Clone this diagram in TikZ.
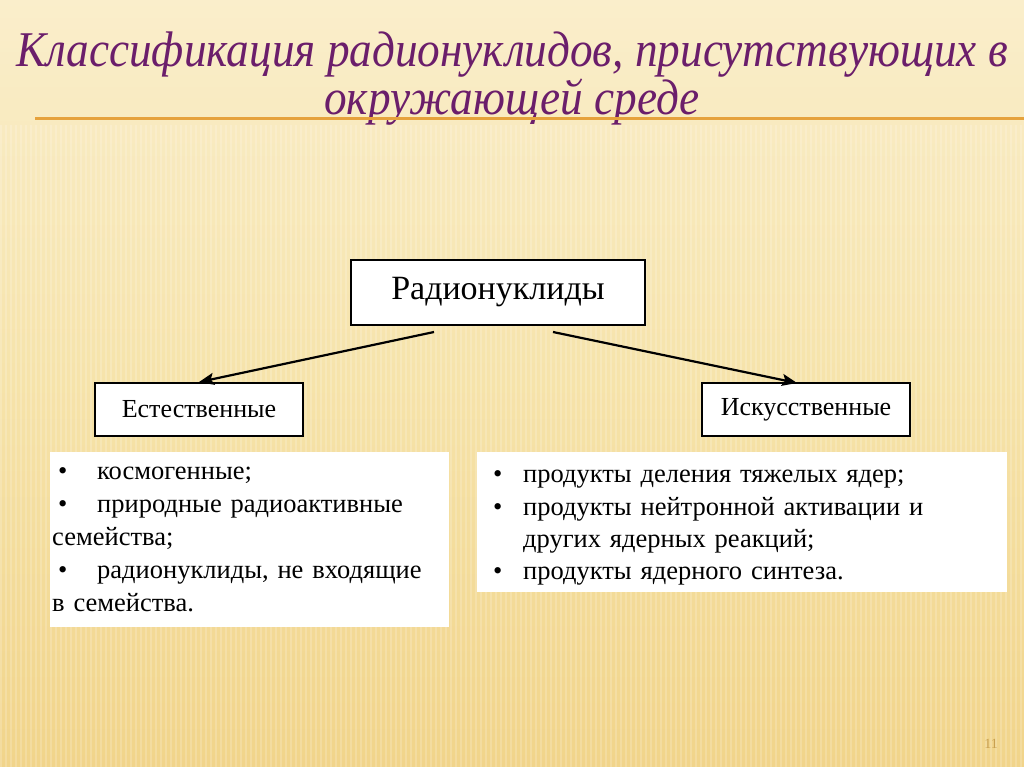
\documentclass[tikz,border=0pt]{standalone}
\usepackage{fontspec}
\setmainfont{Liberation Serif}
\usetikzlibrary{arrows.meta}
\definecolor{bgtop}{HTML}{FAEECB}
\definecolor{bgmid}{HTML}{F6E3AA}
\definecolor{bgbot}{HTML}{F1D48A}
\definecolor{titlecol}{HTML}{6B1E6B}
\definecolor{rulecol}{HTML}{E6A23C}
\definecolor{numcol}{HTML}{C8A050}
\tikzset{
  box/.style={draw=black, line width=1.9pt, fill=white, inner sep=0pt, text=black},
  listbg/.style={fill=white, inner sep=0pt},
  listbox/.style={fill=white, inner ysep=0pt, inner xsep=2pt, align=left, text=black,
    font=\fontsize{26.5}{33}\selectfont},
  listtext/.style={inner sep=0pt, align=left, text=black},
  arr/.style={line width=2.2pt, -{Stealth[length=15pt,width=12pt,inset=3pt]}},
  titletext/.style={text=titlecol, font=\fontsize{50}{45}\itshape\selectfont, inner sep=0pt, align=center}
}
\begin{document}
\begin{tikzpicture}[x=1pt,y=-1pt]
\useasboundingbox (0,0) rectangle (1024,767);
\shade[top color=bgtop, bottom color=bgmid] (0,0) rectangle (1024,380);
\shade[top color=bgmid, bottom color=bgbot] (0,380) rectangle (1024,767);
\foreach \i in {0,5,...,1020} {
  \fill[white, opacity=0.18] (\i,125) rectangle (\i+2,767);
}
% title
\node[titletext, anchor=north, xscale=0.905] (title) at (512,32) {Классификация радионуклидов, присутствующих в\\окружающей среде};
\coordinate (r1) at (35,119);
\coordinate (r2) at (1024,119);
\draw[rulecol, line width=3pt] (r1) -- (r2);
% tree
\node[box, minimum width=294pt, minimum height=65pt, font=\fontsize{34}{38}\selectfont] (root) at (498,292.5) {Радионуклиды};
\node[box, minimum width=208pt, minimum height=53pt, font=\fontsize{26}{30}\selectfont] (nat) at (199,409.5) {Естественные};
\node[box, minimum width=208pt, minimum height=53pt, font=\fontsize{26}{30}\selectfont] (art) at (806,409.5) {Искусственные};
\coordinate (s1) at (434,332);
\coordinate (s2) at (553,332);
\coordinate (e2) at (797,383);
\draw[arr] (s1) -- (nat.north);
\draw[arr] (s2) -- (e2);
% lists
\node[listbox, anchor=north west, minimum width=399pt, minimum height=175pt, text width=395pt] (natlist) at (50,452) {%
\hspace*{6pt}\makebox[39pt][l]{•}космогенные;\\
\hspace*{6pt}\makebox[39pt][l]{•}природные радиоактивные\\
семейства;\\
\hspace*{6pt}\makebox[39pt][l]{•}радионуклиды, не входящие\\
в семейства.};
\node[listbg, anchor=north west, minimum width=530pt, minimum height=140pt] (artbg) at (477,452) {};
\node[listtext, anchor=north west, text width=526pt, font=\fontsize{26.5}{32.3}\selectfont] (artlist) at (479,460) {%
\strut\hspace*{14pt}\makebox[30pt][l]{•}продукты деления тяжелых ядер;\\
\hspace*{14pt}\makebox[30pt][l]{•}продукты нейтронной активации и\\
\hspace*{44pt}других ядерных реакций;\\
\hspace*{14pt}\makebox[30pt][l]{•}продукты ядерного синтеза.};
\node[text=numcol, font=\fontsize{14}{16}\selectfont, anchor=base] (num) at (991,748) {11};
\end{tikzpicture}
\end{document}
